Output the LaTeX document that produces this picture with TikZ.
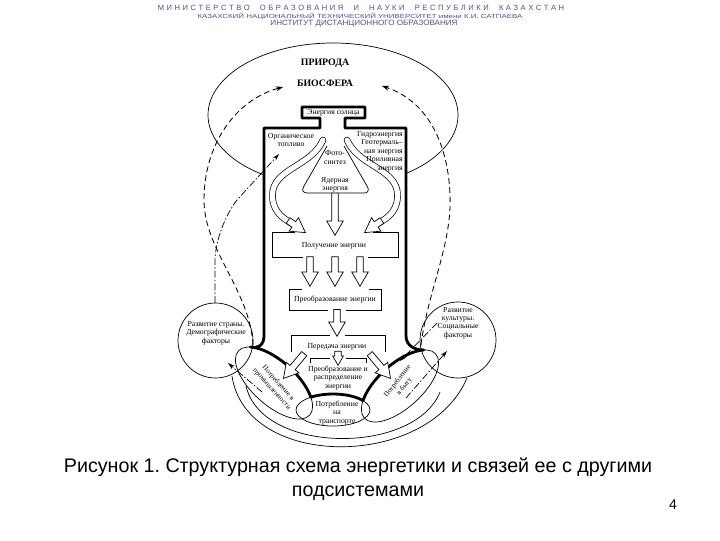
\documentclass[tikz,border=0pt]{standalone}
\usepackage{graphicx}
\usepackage{fontspec}
\setmainfont{Liberation Serif}
\newfontfamily\headfont{Liberation Sans}
\usetikzlibrary{shapes.arrows,arrows.meta}
\definecolor{headblue}{RGB}{78,78,140}
\frenchspacing

\tikzset{
  lbl/.style={font=\fontsize{5.5}{6}\selectfont, align=center, inner sep=0pt},
  wall/.style={line width=2pt, line join=round},
  thinline/.style={line width=0.5pt},
  fatarrow/.style={single arrow, draw, fill=white, line width=0.5pt, inner sep=2.1pt,
    single arrow head extend=3.5pt, single arrow tip angle=60, minimum height=#1, anchor=tip},
  band/.style={line width=0.5pt, double=white, double distance=3.7pt, line cap=round},
  flow/.style={line width=0.6pt, dash pattern=on 4pt off 2.5pt, -{Stealth[length=5pt,width=3.5pt]}},
  link/.style={line width=0.5pt, dash pattern=on 5pt off 1.5pt on 1pt off 1.5pt, -{Stealth[length=5pt,width=3pt]}},
}

\begin{document}
\begin{tikzpicture}[x=0.025cm, y=-0.025cm]
\useasboundingbox (0,0) rectangle (720,540);

% header
\node[headblue, font=\headfont\fontsize{5.4}{6}\selectfont, inner sep=0] (hd1) at (361,8)
  {\makebox[289pt][s]{М И Н И С Т Е Р С Т В О\ \ \ \ О Б Р А З О В А Н И Я\ \ \ \ И\ \ \ \ Н А У К И\ \ \ \ Р Е С П У Б Л И К И\ \ \ \ К А З А Х С Т А Н}};
\node[headblue, inner sep=0] (hd2) at (360,16)
  {\resizebox{231pt}{3.8pt}{\headfont КАЗАХСКИЙ НАЦИОНАЛЬНЫЙ ТЕХНИЧЕСКИЙ УНИВЕРСИТЕТ имени К.И. САТПАЕВА}};
\node[headblue, inner sep=0] (hd3) at (364,24)
  {\resizebox{133pt}{3.8pt}{\headfont ИНСТИТУТ ДИСТАНЦИОННОГО ОБРАЗОВАНИЯ}};

% nature
\draw[thinline] (333,115) ellipse [x radius=125, y radius=72];
\node[font=\bfseries\fontsize{7}{8}\selectfont, inner sep=0] (nature) at (325,63) {ПРИРОДА};
\node[font=\bfseries\fontsize{7}{8}\selectfont, inner sep=0] (bio) at (325,83) {БИОСФЕРА};

% energy system boundary
\draw[wall, fill=white] (320,128) -- (320,118) -- (302,118) -- (302,107) -- (365,107) -- (365,118)
  -- (345,118) -- (345,128) -- (406,128) -- (406,336)
  .. controls (406,345) and (414,350) .. (423.5,350)
  -- plot[domain=30:140, samples=23] ({400+35.66*cos(\x)-14.72*sin(\x)}, {386-32.11*cos(\x)-16.35*sin(\x)})
  -- plot[domain=36:127, samples=19] ({333+37*cos(\x)}, {410-16*sin(\x)})
  -- plot[domain=140:30, samples=23] ({274-35.66*cos(\x)+14.72*sin(\x)}, {383-32.11*cos(\x)-16.35*sin(\x)})
  .. controls (258,349) and (264,345) .. (264,336) -- (264,128) -- cycle;

% consumers
\draw[thinline, rotate around={-42:(274,383)}] (274,383) ellipse [x radius=48, y radius=22];
\draw[thinline, rotate around={42:(400,386)}] (400,386) ellipse [x radius=48, y radius=22];
\draw[thinline] (333,410) ellipse [x radius=37, y radius=16];

% factors
\draw[thinline] (215.5,340.5) circle [radius=37.5];
\draw[thinline] (458,340) circle [radius=38];
\draw[thinline] (232,376) .. controls (246,470) and (428,470) .. (467,378);
\draw[thinline] (246,386) .. controls (262,455) and (415,455) .. (440,392);

% sources
\draw[thinline, rounded corners=5pt] (327,146) -- (300,193) -- (371,193) -- (344,146);
\draw[band] (323,140) .. controls (312,165) and (278,168) .. (273,190) .. controls (270,210) and (282,218) .. (293,224);
\draw[band] (347,140) .. controls (358,165) and (392,168) .. (397,190) .. controls (400,210) and (388,218) .. (377,224);
\node[fatarrow=15pt, rotate=-35] (e1) at (306,233) {};
\node[fatarrow=15pt, rotate=-145] (e2) at (364,233) {};
\node[fatarrow=30pt, rotate=-90] (a0) at (335,236) {};

% frames
\draw[thinline] (295,232) -- (272,232) -- (272,257) -- (303,257);
\draw[thinline] (373,232) -- (398,232) -- (398,257) -- (368,257);
\draw[thinline] (302,289) -- (289,289) -- (289,310) -- (328,310);
\draw[thinline] (369,289) -- (381,289) -- (381,310) -- (346,310);
\draw[thinline] (330,335) -- (291,335) -- (291,352);
\draw[thinline] (345,335) -- (385,335) -- (385,352);
\draw[thinline] (310,363) -- (310,358) -- (330,358);
\draw[thinline] (346,358) -- (366,358) -- (366,363);

\foreach \xa [count=\i] in {310,335,360}
  \node[fatarrow=21pt, rotate=-90] (b\i) at (\xa,287) {};
\node[fatarrow=19pt, rotate=-90] (c0) at (337,337) {};
\node[fatarrow=10pt, rotate=-90, single arrow head extend=1.5pt] (d0) at (338,366) {};
\node[fatarrow=23pt, rotate=-130] (d1) at (283,379) {};
\node[fatarrow=23pt, rotate=-50] (d2) at (391,379) {};

% influences
\draw[flow] (253,345) .. controls (250,290) and (204,250) .. (204,200) .. controls (204,145) and (235,100) .. (283,87);
\draw[flow] (421,345) .. controls (428,290) and (452,245) .. (450,195) .. controls (448,140) and (425,100) .. (382,86);
\draw[link] (215,303) -- (215,262) .. controls (215,240) and (226,214) .. (237,200) -- (279,154);
\draw[link] (262,392) -- (228,363);
\draw[link] (437,323) -- (400,361);
\draw[link] (406,398) -- (447,351);

% labels
\node[lbl] (sun) at (333.5,112.5) {Энергия солнца};
\node[lbl] (fuel) at (291,140) {Органическое\\топливо};
\node[lbl, align=right, anchor=north east] (hydro) at (403,131) {Гидроэнергия\\Геотермаль--\\ная энергия\\Приливная\\энергия};
\node[lbl] (photo) at (335,157.5) {Фото-\\синтез};
\node[lbl] (nuclear) at (335,185) {Ядерная\\энергия};
\node[lbl] (recv) at (334,246) {Получение энергии};
\node[lbl] (conv) at (335,300) {Преобразование энергии};
\node[lbl] (trans) at (337,347) {Передача энергии};
\node[lbl] (distr) at (338,378) {Преобразование и\\распределение\\энергии};
\node[lbl] (transport) at (337,413) {Потребление\\на\\транспорте};
\node[lbl, font=\fontsize{5}{6.2}\selectfont, rotate=-48] (industry) at (275,386) {Потребление в\\промышленности};
\node[lbl, font=\fontsize{5}{6.2}\selectfont, rotate=52] (home) at (401,384) {Потребление\\в быту};
\node[lbl] (country) at (216,333) {Развитие страны.\\Демографические\\факторы};
\node[lbl] (culture) at (458,323) {Развитие\\культуры.\\Социальные\\факторы};

% caption
\node[font=\headfont\fontsize{14}{17}\selectfont, align=center, inner sep=0] (caption) at (358,479)
  {Рисунок 1. Структурная схема энергетики и связей ее с другими\\подсистемами};
\node[font=\headfont\fontsize{10}{12}\selectfont, inner sep=0] (page) at (673,505) {4};
\end{tikzpicture}
\end{document}
